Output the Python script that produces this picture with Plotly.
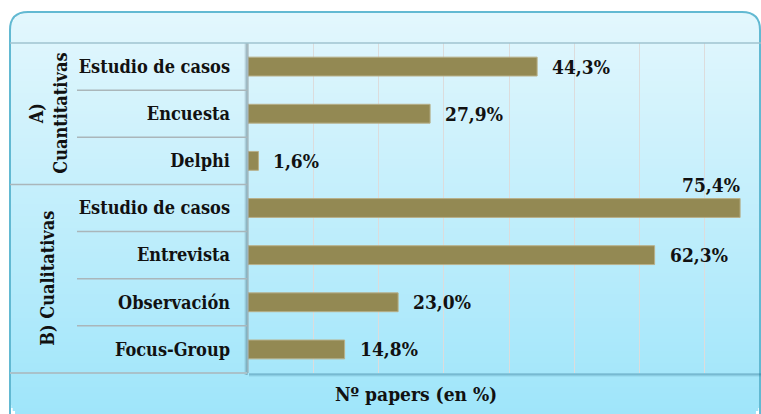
import plotly.graph_objects as go

# datos
grupos = ["A)<br>Cuantitativas", "B) Cualitativas"]
metodos = ["Estudio de casos", "Encuesta", "Delphi",
           "Estudio de casos", "Entrevista", "Observación", "Focus-Group"]
grupo_de = [0, 0, 0, 1, 1, 1, 1]
porcentajes = [44.3, 27.9, 1.6, 75.4, 62.3, 23.0, 14.8]
titulo_x = "Nº papers (en %)"

W, H = 761, 414
L, R, T, B = 248, 0, 43, 41
PW, PH = W - L - R, H - T - B


def px(x):
    return (x - L) / PW


def py(y):
    return (H - B - y) / PH


FONT = "DejaVu Serif Condensed, DejaVu Serif, serif"
pos = list(range(len(metodos)))

fig = go.Figure()
fig.add_trace(go.Bar(
    x=porcentajes, y=pos, orientation="h", width=0.4,
    marker=dict(color="#938953", line=dict(color="#b8b08a", width=1)),
    hoverinfo="x+y",
))

shapes = []

# fondo degradado del recuadro redondeado
top_c = (227, 247, 253)
bot_c = (158, 229, 250)
x0b, x1b, y0b, y1b, rad = 10, 760, 12, 418, 18
step = 3
y = y0b
while y < y1b:
    t = (y - y0b) / (y1b - y0b)
    c = tuple(int(round(a + (b - a) * t)) for a, b in zip(top_c, bot_c))
    yc = y + step / 2
    inset = 0
    if yc < y0b + rad:
        d = rad - (yc - y0b)
        inset = rad - (rad ** 2 - d ** 2) ** 0.5
    if yc > y1b - rad:
        d = rad - (y1b - yc)
        inset = rad - max(rad ** 2 - d ** 2, 0) ** 0.5
    shapes.append(dict(type="rect", xref="paper", yref="paper", layer="below",
                       x0=px(x0b + inset), x1=px(x1b - inset + 1),
                       y0=py(y + step), y1=py(y), line=dict(width=0),
                       fillcolor="rgb(%d,%d,%d)" % c))
    y += step

# borde redondeado
path = ("M {a},{b} L {a},{c} Q {a},{d} {e},{d} L {f},{d} Q {g},{d} {g},{c} L {g},{h}"
        .format(a=px(x0b), b=py(y1b), c=py(y0b + rad), d=py(y0b),
                e=px(x0b + rad), f=px(x1b - rad), g=px(x1b), h=py(y1b)))
shapes.append(dict(type="path", xref="paper", yref="paper", path=path,
                   line=dict(color="#62b9d2", width=2), layer="below"))

# sombra del área de gráfico
for i, a in enumerate([0.35, 0.2, 0.1]):
    shapes.append(dict(type="line", xref="paper", yref="paper", layer="below",
                       x0=px(L + 1), x1=1.01, y0=py(H - B + 1 + i), y1=py(H - B + 1 + i),
                       line=dict(color="rgba(40,110,140,%.2f)" % a, width=1.5)))
    shapes.append(dict(type="line", xref="paper", yref="paper", layer="below",
                       x0=px(L - 1 - i), x1=px(L - 1 - i), y0=py(H - B + 2), y1=1,
                       line=dict(color="rgba(60,90,100,%.2f)" % a, width=1.5)))
shapes.append(dict(type="line", xref="paper", yref="paper",
                   x0=0, x1=0, y0=0, y1=1, line=dict(color="#9aa6aa", width=1)))

# líneas de la zona de etiquetas
shapes.append(dict(type="line", xref="paper", yref="paper",
                   x0=px(10), x1=1.01, y0=1, y1=1, line=dict(color="#9fc3cf", width=1.5)))
shapes.append(dict(type="line", xref="paper", yref="paper",
                   x0=px(10), x1=px(L - 1), y0=0, y1=0, line=dict(color="#a9c2ca", width=2)))
for k in range(1, len(metodos)):
    nuevo_grupo = grupo_de[k] != grupo_de[k - 1]
    shapes.append(dict(type="line", xref="paper", yref="y",
                       x0=px(10 if nuevo_grupo else 77), x1=px(L - 1),
                       y0=k - 0.5, y1=k - 0.5,
                       line=dict(color="#aab6ba", width=1.5)))

annotations = []
for v, p in zip(porcentajes, pos):
    txt = ("%.1f%%" % v).replace(".", ",")
    if v > 70:
        annotations.append(dict(x=v, y=p - 0.49, xref="x", yref="y", text=txt,
                                showarrow=False, xanchor="right", yanchor="middle", xshift=2,
                                font=dict(family=FONT, size=19, color="#111111", weight="bold")))
    else:
        annotations.append(dict(x=v, y=p, xref="x", yref="y", text=txt,
                                showarrow=False, xanchor="left", yanchor="middle", xshift=13,
                                font=dict(family=FONT, size=19, color="#111111", weight="bold")))

for g, nombre in enumerate(grupos):
    filas = [p for p, gg in zip(pos, grupo_de) if gg == g]
    annotations.append(dict(x=px(48), y=sum(filas) / len(filas), xref="paper", yref="y",
                            text=nombre, textangle=-90, showarrow=False,
                            xanchor="center", yanchor="middle",
                            font=dict(family=FONT, size=18, color="#111111", weight="bold")))

annotations.append(dict(x=px(416), y=py(394), xref="paper", yref="paper",
                        text=titulo_x, showarrow=False, xanchor="center", yanchor="middle",
                        font=dict(family=FONT, size=19, color="#111111", weight="bold")))

fig.update_layout(
    width=W, height=H,
    margin=dict(l=L, r=R, t=T, b=B),
    paper_bgcolor="white", plot_bgcolor="rgba(0,0,0,0)",
    showlegend=False,
    shapes=shapes, annotations=annotations,
    font=dict(family=FONT, size=18, color="#111111"),
)
fig.update_xaxes(range=[0, 78.6], dtick=10, showticklabels=False, showgrid=True,
                 gridcolor="#dcdcdc", gridwidth=1, zeroline=False, fixedrange=True)
fig.update_yaxes(range=[len(metodos) - 0.5, -0.5], tickvals=pos, ticktext=metodos,
                 showgrid=False, zeroline=False, ticks="", ticklabelstandoff=17,
                 tickfont=dict(family=FONT, size=18, color="#111111", weight="bold"),
                 fixedrange=True)

fig.write_html("out.html", config={"displayModeBar": False},
               post_script="document.body.style.margin='0';")
